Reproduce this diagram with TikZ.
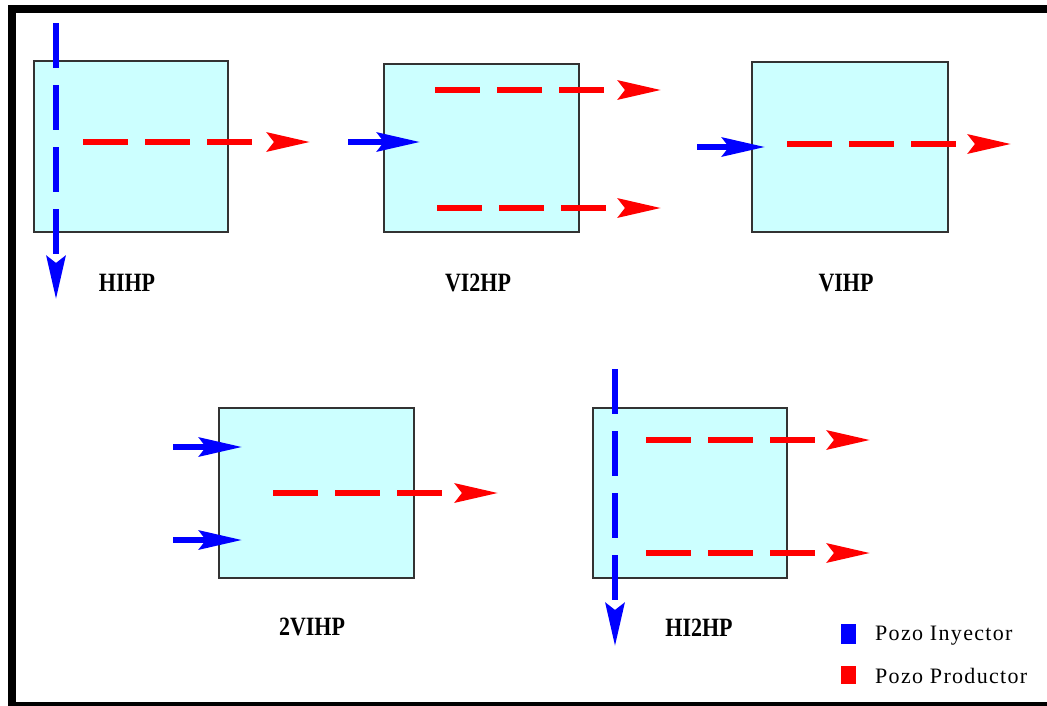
\documentclass[tikz,border=0pt]{standalone}
\usepackage{fontspec}
\setmainfont{Liberation Serif}
\newfontfamily\legfont[LetterSpace=6]{Liberation Serif}
\usetikzlibrary{arrows.meta}
\definecolor{boxfill}{HTML}{CCFFFF}
\definecolor{injblue}{HTML}{0000FF}
\definecolor{prodred}{HTML}{FF0000}
\newcommand{\wlabel}[1]{\scalebox{1}[1.2]{#1}}
\tikzset{
  wellbox/.style={draw=black!80, line width=1.6pt, fill=boxfill, inner sep=0pt},
  tip/.style={-{Stealth[length=43pt,width=19pt,inset=7pt]}},
  injector/.style={tip, draw=injblue, line width=5.8pt},
  prodline/.style={draw=prodred, line width=5.8pt, dash pattern=on 45pt off 17pt},
  prodtip/.style={tip, draw=prodred, line width=5.8pt, shorten <=8pt},
  label/.style={font=\bfseries\fontsize{22}{22}\selectfont, inner sep=0pt},
  legtext/.style={font=\legfont\fontsize{22}{22}\selectfont, anchor=west, inner sep=0pt},
}
\begin{document}
\begin{tikzpicture}[x=1pt,y=-1pt]
\useasboundingbox (0,0) rectangle (1047,705);
\fill[white] (0,0) rectangle (1047,705);
% frame
\draw[line width=8pt] (12,9) rectangle (1070,706);

% ---- HIHP
\node[wellbox, minimum width=194pt, minimum height=171pt] (b1) at (131,146.5) {};
\coordinate (b1pi) at (83,142); \coordinate (b1pb) at (267,142); \coordinate (b1po) at (310,142);
\draw[prodline] (b1pi) -- (b1pb);
\draw[prodtip] (b1pb) -- (b1po);
\coordinate (b1ii) at (56,23);   \coordinate (b1io) at (56,299);
\draw[injector, dash pattern=on 45pt off 17pt] (b1ii) -- (b1io);
\node[label] (l1) at (127,283) {\wlabel{HIHP}};

% ---- VI2HP
\node[wellbox, minimum width=195pt, minimum height=168pt] (b2) at (481.5,148) {};
\coordinate (b2ai) at (435,90);  \coordinate (b2ab) at (618,90);  \coordinate (b2ao) at (661,90);
\coordinate (b2bi) at (437,208); \coordinate (b2bb) at (618,208); \coordinate (b2bo) at (661,208);
\draw[prodline] (b2ai) -- (b2ab);
\draw[prodtip] (b2ab) -- (b2ao);
\draw[prodline] (b2bi) -- (b2bb);
\draw[prodtip] (b2bb) -- (b2bo);
\coordinate (b2ii) at (348,142); \coordinate (b2io) at (420,142);
\draw[injector] (b2ii) -- (b2io);
\node[label] (l2) at (478,283) {\wlabel{VI2HP}};

% ---- VIHP
\node[wellbox, minimum width=196pt, minimum height=170pt] (b3) at (850,147) {};
\coordinate (b3pi) at (787,144); \coordinate (b3pb) at (968,144); \coordinate (b3po) at (1011,144);
\draw[prodline] (b3pi) -- (b3pb);
\draw[prodtip] (b3pb) -- (b3po);
\coordinate (b3ii) at (697,147); \coordinate (b3io) at (765,147);
\draw[injector] (b3ii) -- (b3io);
\node[label] (l3) at (846,283) {\wlabel{VIHP}};

% ---- 2VIHP
\node[wellbox, minimum width=195pt, minimum height=170pt] (b4) at (316.5,493) {};
\coordinate (b4pi) at (273,493); \coordinate (b4pb) at (455,493); \coordinate (b4po) at (498,493);
\draw[prodline] (b4pi) -- (b4pb);
\draw[prodtip] (b4pb) -- (b4po);
\coordinate (b4ai) at (173,447); \coordinate (b4ao) at (242,447);
\coordinate (b4bi) at (173,540); \coordinate (b4bo) at (242,540);
\draw[injector] (b4ai) -- (b4ao);
\draw[injector] (b4bi) -- (b4bo);
\node[label] (l4) at (312,627) {\wlabel{2VIHP}};

% ---- HI2HP
\node[wellbox, minimum width=194pt, minimum height=170pt] (b5) at (690,493) {};
\coordinate (b5ai) at (646,440); \coordinate (b5ab) at (827,440); \coordinate (b5ao) at (870,440);
\coordinate (b5bi) at (646,553); \coordinate (b5bb) at (827,553); \coordinate (b5bo) at (870,553);
\draw[prodline] (b5ai) -- (b5ab);
\draw[prodtip] (b5ab) -- (b5ao);
\draw[prodline] (b5bi) -- (b5bb);
\draw[prodtip] (b5bb) -- (b5bo);
\coordinate (b5ii) at (615,369); \coordinate (b5io) at (615,646);
\draw[injector, dash pattern=on 45pt off 17pt] (b5ii) -- (b5io);
\node[label] (l5) at (699,628) {\wlabel{HI2HP}};

% ---- legend
\node[fill=injblue, minimum width=15pt, minimum height=20pt, inner sep=0pt] (lg1) at (848,634) {};
\node[fill=prodred, minimum width=15pt, minimum height=18pt, inner sep=0pt] (lg2) at (848,675) {};
\node[legtext] (lt1) at (875,636) {Pozo Inyector};
\node[legtext] (lt2) at (875,676) {Pozo Productor};
\end{tikzpicture}
\end{document}
